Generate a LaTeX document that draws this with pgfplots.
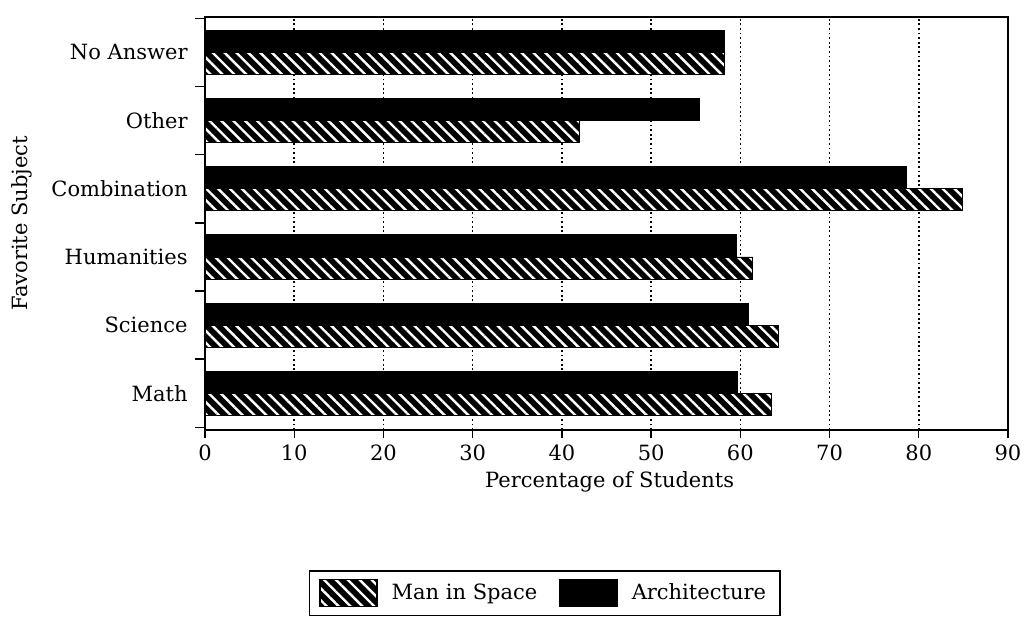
\documentclass[border=0pt]{standalone}
\usepackage{fontspec}
\setmainfont{DejaVu Serif}
\usepackage{pgfplots}
\pgfplotsset{compat=1.18}
\usetikzlibrary{patterns.meta}
\newcommand{\chf}{\fontsize{10.5bp}{12.6bp}\selectfont}
\pgfplotsset{boxlegend/.style={legend image code/.code={\draw[##1] (0bp,-6.75bp) rectangle (28.5bp,6.75bp);}}}
\begin{document}
\chf
\begin{tikzpicture}
\begin{axis}[
  scale only axis, width=401.5bp, height=206.5bp,
  xmin=0, xmax=90, ymin=-0.54, ymax=5.52,
  xtick={0,10,...,90},
  ytick={0,...,5},
  yticklabels={Math,Science,Humanities,Combination,Other,No Answer},
  minor ytick={-0.5,0.5,...,5.5},
  tick align=outside,
  xtick pos=bottom, ytick pos=left,
  major tick length=4bp,
  minor tick length=5bp,
  major y tick style={draw=none},
  minor y tick style={black, line width=0.7bp},
  major x tick style={black, line width=0.7bp},
  axis line style={line width=0.8bp},
  xmajorgrids,
  major x grid style={black, line width=0.8bp, dash pattern=on 0.9bp off 1.4bp},
  /pgf/number format/assume math mode=true,
  tick label style={font=\chf},
  label style={font=\chf},
  xlabel={Percentage of Students},
  ylabel={Favorite Subject},
  xlabel style={at={(axis description cs:0.504,-0.126)}, anchor=center},
  ylabel style={at={(axis description cs:-0.228,0.5)}, anchor=center},
  yticklabel style={xshift=-1bp},
  legend columns=2,
  legend style={font=\chf, at={(axis description cs:0.423,-0.395)}, anchor=center,
    draw=black, line width=0.7bp, inner xsep=5bp, inner ysep=4bp,
    /tikz/every odd column/.append style={column sep=5bp},
    /tikz/every even column/.append style={column sep=9bp}},
]
\addplot[xbar, fill=black, draw=black, bar width=11bp, bar shift=-5.5bp,
  postaction={pattern={Lines[angle=-45,distance=4.2bp,line width=1.2bp]}, pattern color=white},
  boxlegend]
  coordinates {(63.5,0) (64.3,1) (61.4,2) (84.9,3) (42.0,4) (58.2,5)};
\addlegendentry{Man in Space}
\addplot[xbar, fill=black, draw=black, bar width=11bp, bar shift=5.5bp, boxlegend]
  coordinates {(59.7,0) (60.9,1) (59.6,2) (78.6,3) (55.4,4) (58.2,5)};
\addlegendentry{Architecture}
\coordinate (BL) at (rel axis cs:0,0);
\coordinate (TR) at (rel axis cs:1,1);
\end{axis}
\pgfresetboundingbox
\path[use as bounding box] ([xshift=-102.5bp,yshift=-97bp]BL) rectangle ([xshift=8bp,yshift=8.5bp]TR);
\end{tikzpicture}
\end{document}
